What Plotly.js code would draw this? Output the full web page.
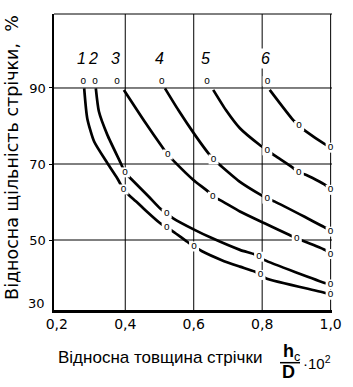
<!DOCTYPE html>
<html><head><meta charset="utf-8">
<script src="https://cdn.plot.ly/plotly-3.0.1.min.js"></script>
<style>html,body{margin:0;padding:0;background:#fff;}#chart{width:353px;height:387px;}</style>
</head><body><div id="chart"></div>
<script>
// ---- data ----
const curveLabels = ['1', '2', '3', '4', '5', '6'];

const c1x = [0.280, 0.289, 0.309, 0.348, 0.377, 0.395, 0.411, 0.431, 0.458, 0.502, 0.521, 0.540, 0.580, 0.601, 0.623, 0.682, 0.735, 0.778, 0.795, 0.812, 0.987, 1.000];
const c1y = [89.9, 82.0, 75.9, 70.2, 66.2, 63.3, 61.8, 60.2, 57.9, 54.4, 53.2, 52.2, 49.6, 48.3, 47.1, 44.7, 43.0, 41.7, 40.8, 39.9, 36.0, 35.6];
const m1x = [0.277, 0.395, 0.521, 0.601, 0.795, 1.000];
const m1y = [91.8, 63.3, 53.2, 48.3, 40.8, 35.6];

const c2x = [0.314, 0.323, 0.348, 0.387, 0.399, 0.416, 0.469, 0.502, 0.521, 0.540, 0.604, 0.653, 0.735, 0.778, 0.791, 0.807, 0.987, 1.000];
const c2y = [89.9, 83.8, 77.6, 70.2, 67.8, 66.2, 61.4, 58.3, 57.0, 55.7, 52.6, 50.5, 47.4, 46.2, 45.6, 44.7, 38.6, 38.3];
const m2x = [0.312, 0.399, 0.521, 0.791, 1.000];
const m2y = [91.8, 67.8, 57.0, 45.6, 38.3];

const c3x = [0.396, 0.458, 0.507, 0.524, 0.545, 0.599, 0.643, 0.656, 0.677, 0.735, 0.807, 0.880, 0.901, 0.924, 0.983, 1.000];
const c3y = [89.5, 81.0, 74.6, 72.5, 70.5, 65.8, 62.7, 61.4, 60.5, 57.5, 54.4, 51.3, 50.4, 49.6, 47.4, 46.3];
const m3x = [0.376, 0.524, 0.656, 0.901, 1.000];
const m3y = [91.8, 72.5, 61.4, 50.4, 46.3];

const c4x = [0.516, 0.555, 0.604, 0.643, 0.658, 0.677, 0.735, 0.797, 0.815, 0.837, 0.924, 0.987, 1.000];
const c4y = [89.9, 84.2, 77.6, 72.8, 71.2, 69.7, 65.3, 61.8, 60.9, 60.1, 56.1, 53.1, 52.2];
const m4x = [0.507, 0.658, 0.815, 1.000];
const m4y = [91.8, 71.2, 60.9, 52.2];

const c5x = [0.657, 0.694, 0.735, 0.793, 0.815, 0.837, 0.890, 0.907, 0.929, 0.984, 1.000];
const c5y = [89.5, 84.2, 79.4, 75.0, 73.6, 72.2, 69.0, 67.8, 67.1, 64.5, 63.2];
const m5x = [0.639, 0.815, 0.907, 1.000];
const m5y = [91.8, 73.6, 67.8, 63.2];

const c6x = [0.822, 0.890, 0.908, 0.929, 0.983, 1.000];
const c6y = [89.5, 81.6, 80.0, 78.5, 75.2, 74.3];
const m6x = [0.816, 0.908, 1.000];
const m6y = [91.8, 80.0, 74.3];

const xTickVals = [0.2, 0.4, 0.6, 0.8, 1.0];
const xTickText = ['0,2', '0,4', '0,6', '0,8', '1,0'];
const yTickVals = [30, 50, 70, 90];
const yTickText = ['30', '50', '70', '90'];

const yTitle = 'Відносна щільність стрічки,  %';
const xTitle = 'Відносна товщина стрічки';

// ---- build ----
const FONT = 'Liberation Sans, Arial, sans-serif';
const WIDE = 'DejaVu Sans, Verdana, sans-serif';
const xRange = [0.1918, 1.004];
const yRange = [31.58, 109.47];

const curves = [[c1x, c1y, m1x, m1y], [c2x, c2y, m2x, m2y], [c3x, c3y, m3x, m3y],
                [c4x, c4y, m4x, m4y], [c5x, c5y, m5x, m5y], [c6x, c6y, m6x, m6y]];
const traces = [];
curves.forEach(([cx, cy]) => {
  traces.push({x: cx, y: cy, type: 'scatter', mode: 'lines', hoverinfo: 'skip',
    line: {color: '#000', width: 2.7, shape: 'spline', smoothing: 0.6}, showlegend: false});
});
curves.forEach(([, , mx, my]) => {
  traces.push({x: mx, y: my, type: 'scatter', mode: 'markers+text', cliponaxis: false,
    text: mx.map(() => 'o'), textposition: 'middle center',
    textfont: {family: FONT, size: 10, color: '#000'},
    marker: {symbol: 'square', size: 10, color: '#fff', line: {width: 0}},
    hoverinfo: 'skip', showlegend: false});
});

const shapes = [];
xTickVals.filter(v => v > xRange[0] + 0.05).forEach(v => shapes.push({type: 'line', layer: 'below',
  xref: 'x', yref: 'paper', x0: v, x1: v, y0: 0, y1: 1, line: {color: '#000', width: 1}}));
yTickVals.filter(v => v > yRange[0]).forEach(v => shapes.push({type: 'line', layer: 'below',
  xref: 'paper', yref: 'y', x0: 0, x1: 1, y0: v, y1: v, line: {color: '#000', width: 1}}));
shapes.push({type: 'line', layer: 'below', xref: 'paper', yref: 'paper', x0: 0, x1: 1, y0: 1, y1: 1,
  line: {color: '#000', width: 1}});
// fraction bar
shapes.push({type: 'line', layer: 'above', xref: 'paper', yref: 'paper', x0: 0.813, x1: 0.885, y0: -0.178, y1: -0.178,
  line: {color: '#000', width: 1.5}});

const annotations = [];
curves.forEach(([, , mx, my], i) => annotations.push({
  x: mx[0], y: my[0], xref: 'x', yref: 'y', xanchor: 'center', yanchor: 'middle',
  yshift: 23, xshift: -2, showarrow: false,
  text: '<i>' + curveLabels[i] + '</i>', font: {family: FONT, size: 16, color: '#000'}, bgcolor: '#fff'}));
yTickVals.forEach((v, i) => { if (v < yRange[0]) annotations.push({
  x: 0, y: yRange[0], xref: 'paper', yref: 'y', xanchor: 'right', yanchor: 'middle', xshift: -7, yshift: 7,
  showarrow: false, text: yTickText[i], font: {family: WIDE, size: 13, color: '#000'}}); });
annotations.push({x: -0.151, y: 0.514, xref: 'paper', yref: 'paper', xanchor: 'center', yanchor: 'middle',
  textangle: -90, showarrow: false, text: yTitle, font: {family: WIDE, size: 17.5, color: '#000'}});
annotations.push({x: 0.381, y: -0.162, xref: 'paper', yref: 'paper', xanchor: 'center', yanchor: 'middle',
  showarrow: false, text: xTitle, font: {family: FONT, size: 17, color: '#000'}});
annotations.push({x: 0.8165, y: -0.142, xref: 'paper', yref: 'paper', xanchor: 'left', yanchor: 'middle',
  showarrow: false, text: '<b>h</b><sub>c</sub>', font: {family: FONT, size: 18, color: '#000'}});
annotations.push({x: 0.842, y: -0.210, xref: 'paper', yref: 'paper', xanchor: 'center', yanchor: 'middle',
  showarrow: false, text: '<b>D</b>', font: {family: FONT, size: 18, color: '#000'}});
annotations.push({x: 0.888, y: -0.179, xref: 'paper', yref: 'paper', xanchor: 'left', yanchor: 'middle',
  showarrow: false, text: '·10<sup>2</sup>', font: {family: FONT, size: 15, color: '#000'}});

const layout = {
  width: 353, height: 387, margin: {l: 54, r: 21, t: 14, b: 77},
  paper_bgcolor: '#fff', plot_bgcolor: '#fff', showlegend: false,
  font: {family: FONT, color: '#000'},
  xaxis: {range: xRange, tickvals: xTickVals, ticktext: xTickText, showgrid: false, zeroline: false,
    showline: true, linewidth: 2.5, linecolor: '#000', ticks: '', tickfont: {size: 14, family: WIDE, color: '#000'}},
  yaxis: {range: yRange, tickvals: yTickVals, ticktext: yTickText, showgrid: false, zeroline: false,
    showline: true, linewidth: 2.5, linecolor: '#000', ticks: 'outside', ticklen: 3, tickwidth: 1, tickcolor: '#000',
    tickfont: {size: 13, family: WIDE, color: '#000'}},
  shapes: shapes, annotations: annotations
};
Plotly.newPlot('chart', traces, layout, {displayModeBar: false, staticPlot: true});
</script></body></html>
